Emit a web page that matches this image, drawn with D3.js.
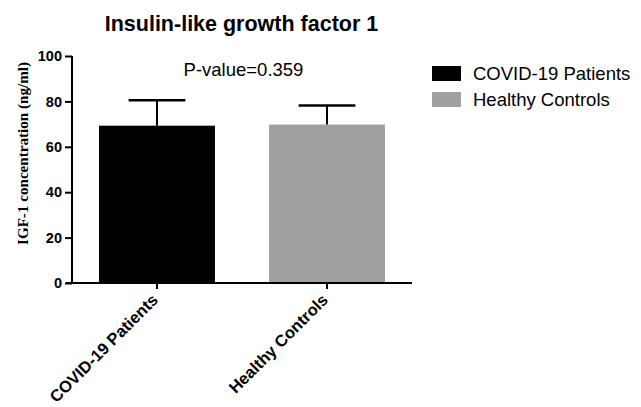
<!DOCTYPE html>
<html><head><meta charset="utf-8">
<script src="https://cdn.jsdelivr.net/npm/d3@7"></script>
<style>body{margin:0;background:#fff;}svg{display:block;}</style>
</head><body>
<svg id="c" width="641" height="407"></svg>
<script>
const categories = ["COVID-19 Patients", "Healthy Controls"];
const means = [69.3, 69.8];
const sdUpper = [80.5, 78.2];
const colors = ["#000000", "#a0a0a0"];
const yTicks = [0, 20, 40, 60, 80, 100];
const title = "Insulin-like growth factor 1";
const yLabel = "IGF-1 concentration (ng/ml)";
const pText = "P-value=0.359";

const svg = d3.select("#c");
const m = {left: 72, right: 412, top: 56, bottom: 283};
const x = d3.scaleBand().domain(categories).range([m.left, m.right]).paddingInner(0.318).paddingOuter(0.159);
const y = d3.scaleLinear().domain([0, 100]).range([m.bottom, m.top]);
const sans = "Liberation Sans, Arial, sans-serif";

// bars
svg.selectAll("rect.bar").data(categories).enter().append("rect")
  .attr("x", d => x(d)).attr("width", x.bandwidth())
  .attr("y", (d, i) => y(means[i])).attr("height", (d, i) => y(0) - y(means[i]))
  .attr("fill", (d, i) => colors[i]);

// error bars
const capW = x.bandwidth() * 0.49;
categories.forEach((c, i) => {
  const cx = x(c) + x.bandwidth() / 2;
  svg.append("line").attr("x1", cx).attr("x2", cx).attr("y1", y(means[i])).attr("y2", y(sdUpper[i]))
    .attr("stroke", "#000").attr("stroke-width", 2);
  svg.append("line").attr("x1", cx - capW / 2).attr("x2", cx + capW / 2).attr("y1", y(sdUpper[i])).attr("y2", y(sdUpper[i]))
    .attr("stroke", "#000").attr("stroke-width", 2.5);
});

// y axis
const ya = svg.append("g").attr("transform", `translate(${m.left},0)`)
  .call(d3.axisLeft(y).tickValues(yTicks).tickSize(7).tickPadding(3).tickSizeOuter(0));
ya.select(".domain").attr("stroke-width", 2).attr("d", `M0,${y(0)}V${y(100)}`);
ya.selectAll(".tick line").attr("stroke-width", 2);
ya.selectAll(".tick text").attr("font-family", sans)
  .attr("font-weight", "bold").attr("font-size", 14.5).attr("fill", "#000");

// x axis
const xa = svg.append("g").attr("transform", `translate(0,${m.bottom})`)
  .call(d3.axisBottom(x).tickSize(6).tickSizeOuter(0));
xa.select(".domain").attr("stroke-width", 2).attr("d", `M${m.left - 6},0H${m.right}`);
xa.selectAll(".tick line").attr("stroke-width", 2);
xa.selectAll(".tick text").attr("font-family", sans)
  .attr("font-weight", "bold").attr("font-size", 16.5).attr("fill", "#000")
  .attr("text-anchor", "end").attr("x", 0).attr("y", 0).attr("dy", 0)
  .attr("transform", "translate(2,18) rotate(-45)");

// title
svg.append("text").attr("x", 241.5).attr("y", 31).attr("text-anchor", "middle")
  .attr("font-family", sans).attr("font-weight", "bold").attr("font-size", 21.5)
  .text(title);

// p value
svg.append("text").attr("x", 243.5).attr("y", 76).attr("text-anchor", "middle")
  .attr("font-family", sans).attr("font-size", 18.5)
  .text(pText);

// y label
svg.append("text").attr("transform", "translate(28,153.5) rotate(-90)").attr("text-anchor", "middle")
  .attr("font-family", "Liberation Serif, Times New Roman, serif").attr("font-weight", "bold").attr("font-size", 15)
  .attr("textLength", 183).attr("lengthAdjust", "spacingAndGlyphs")
  .text(yLabel);

// legend
const lg = svg.append("g");
categories.forEach((c, i) => {
  lg.append("rect").attr("x", 432).attr("y", 66 + i * 26).attr("width", 29).attr("height", 15).attr("fill", colors[i]);
  lg.append("text").attr("x", 473).attr("y", 79.5 + i * 26)
    .attr("font-family", sans).attr("font-size", 18.5).text(c);
});
</script>
</body></html>
